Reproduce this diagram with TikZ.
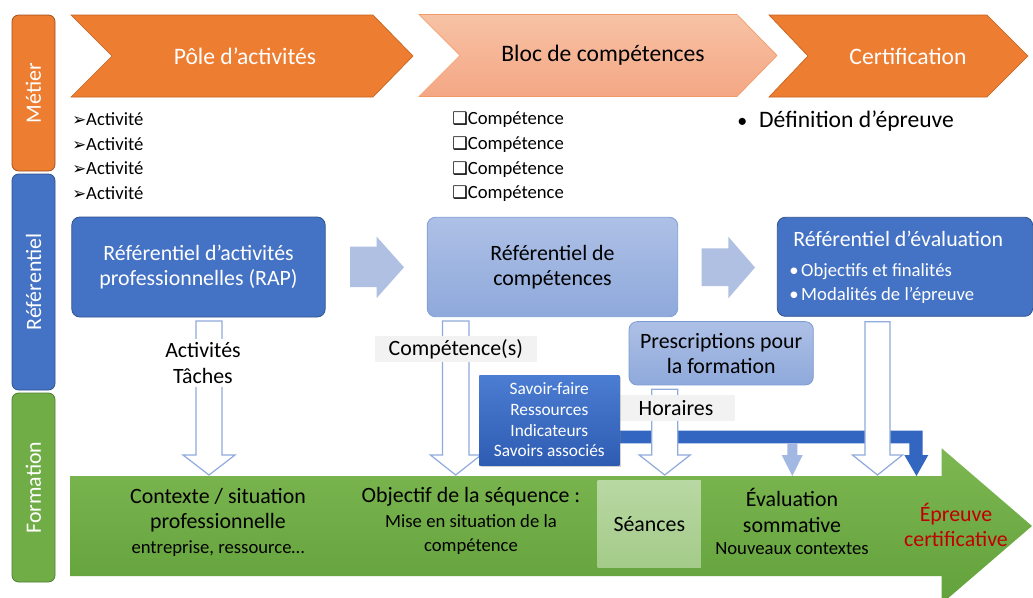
\documentclass[tikz,border=0pt]{standalone}
\usepackage{fontspec}
\setmainfont{Carlito}
\newfontfamily\symfont{DejaVu Sans}
\usetikzlibrary{calc,shadows}
\definecolor{orangeMain}{HTML}{ED7D31}
\definecolor{orangeLine}{HTML}{C8631F}
\definecolor{blocTop}{HTML}{F7C2A5}
\definecolor{blocBot}{HTML}{F4A784}
\definecolor{blocLine}{HTML}{F29A66}
\definecolor{blueMain}{HTML}{4472C4}
\definecolor{blueLine}{HTML}{2F528F}
\definecolor{paleTop}{HTML}{AEC0E6}
\definecolor{paleBot}{HTML}{8EA9DB}
\definecolor{paleLine}{HTML}{7D9BD4}
\definecolor{arrowPale}{HTML}{B0C0E3}
\definecolor{hollowLine}{HTML}{8FAADC}
\definecolor{barBlue}{HTML}{3366C0}
\definecolor{branchBlue}{HTML}{A2B8E2}
\definecolor{savTop}{HTML}{4B7DD2}
\definecolor{savBot}{HTML}{2E5CB3}
\definecolor{lblGray}{HTML}{F2F2F2}
\definecolor{greenMain}{HTML}{70AD47}
\definecolor{greenLine}{HTML}{507E32}
\definecolor{greenTop}{HTML}{7DB752}
\definecolor{greenBot}{HTML}{62A13B}
\definecolor{seanTop}{HTML}{B8D8A3}
\definecolor{seanBot}{HTML}{A4CB89}
\definecolor{redText}{HTML}{C00000}
\newcommand\bigf{\fontsize{17.7}{21}\selectfont}
\newcommand\midf{\fontsize{16.4}{19}\selectfont}
\newcommand\smallf{\fontsize{14}{18.5}\selectfont}
\newcommand\tinyf{\fontsize{13}{15.5}\selectfont}
\newcommand\arr{{\symfont\fontsize{12.5}{12}\selectfont ➢}}
\newcommand\sqb{{\symfont\fontsize{13}{12}\selectfont ❑}}
% hollow block arrow pointing down: (top)(tip)(shaft half width:head half width)
\def\blockdown[#1](#2)(#3)(#4:#5){\draw[#1] ($(#2)+(-#4,0)$) -- ($(#3)+(-#4,-20)$) -- ($(#3)+(-#5,-20)$) -- (#3) -- ($(#3)+(#5,-20)$) -- ($(#3)+(#4,-20)$) -- ($(#2)+(#4,0)$) -- cycle;}

\begin{document}
\begin{tikzpicture}[x=0.75pt,y=-0.75pt,
		tab/.style={rounded corners=5pt, line width=0.6pt},
		tabtext/.style={rotate=90, text=white, font=\midf},
		chev/.style={line width=0.5pt},
		list/.style={font=\smallf, align=left, inner sep=0pt},
		bluebox/.style={draw=blueLine, fill=blueMain, rounded corners=6pt, line width=0.6pt, text=white, align=center, font=\midf, inner sep=0pt},
		palebox/.style={draw=paleLine, top color=paleTop, bottom color=paleBot, rounded corners=6pt, line width=0.6pt, align=center, font=\midf, inner sep=0pt},
		lbl/.style={fill=lblGray, font=\midf, inner sep=0pt},
		hollow/.style={draw=hollowLine, fill=white, line width=0.9pt},
		gtext/.style={align=center, inner sep=0pt}]
		%%%%% START %%%%%
		
		\useasboundingbox (0,0) rectangle (1033,597);
		\fill[white] (0,0) rectangle (1033,597);
		
		% side tabs
		\draw[tab, draw=orangeLine!80!black, fill=orangeMain] (12,15) rectangle (55,171);
		\draw[tab, draw=blueLine, fill=blueMain] (12,174) rectangle (55,390);
		\draw[tab, draw=greenLine, fill=greenMain] (12,393) rectangle (55,582);
		\node[tabtext] (metier) at (33.5,93) {Métier};
		\node[tabtext] (referentiel) at (33.5,282) {Référentiel};
		\node[tabtext] (formation) at (33.5,487.5) {Formation};
		
		% chevrons
		\draw[chev, draw=orangeLine, fill=orangeMain] (71,15) -- (373,15) -- (413,56) -- (373,97) -- (71,97) -- (112,56) -- cycle;
		\draw[chev, draw=blocLine, top color=blocTop, bottom color=blocBot] (419,14.5) -- (737,14.5) -- (777,55.5) -- (737,96.5) -- (419,96.5) -- (460,55.5) -- cycle;
		\draw[chev, draw=orangeLine, fill=orangeMain] (769,15) -- (987,15) -- (1028,56) -- (987,97) -- (769,97) -- (808,56) -- cycle;
		\node[text=white, font=\bigf] (pole) at (245,56) {Pôle d’activités};
		\node[font=\bigf] (bloc) at (603,55) {Bloc de compétences};
		\node[text=white, font=\bigf] (certif) at (908,56) {Certification};
		
		% lists under the chevrons
		\node[list, anchor=west] (actList) at (72,156) {\arr Activité\\\arr Activité\\\arr Activité\\\arr Activité};
		\node[list, anchor=west] (compList) at (452,157) {\sqb Compétence\\\sqb Compétence\\\sqb Compétence\\\sqb Compétence};
		\node[anchor=west, font=\bigf, inner sep=0pt] (defEp) at (737,121.5) {{\fontsize{15}{18}\selectfont•}\hspace{9pt}Définition d’épreuve};
		
		% referentiels
		\node[bluebox, minimum width=190pt, minimum height=75pt] (rap) at (198.5,267) {Référentiel d’activités\\professionnelles (RAP)};
		\node[palebox, minimum width=187.8pt, minimum height=74.5pt] (comp) at (552.5,267) {Référentiel de\\compétences};
		\node[bluebox, minimum width=191.5pt, minimum height=74.3pt] (eval) at (905,266.8) {};
		\node[anchor=west, text=white, font=\midf, inner sep=0pt] (evalTitle) at (793,239) {Référentiel d’évaluation};
		\node[anchor=west, text=white, font=\fontsize{14}{18}\selectfont, align=left, inner sep=0pt] (evalList) at (789,283.5) {•\hspace{2pt}Objectifs et finalités\\•\hspace{2pt}Modalités de l’épreuve};
		
		\fill[arrowPale] (350,246.7) -- (376.7,246.7) -- (376.7,236.7) -- (404,267.3) -- (376.7,298) -- (376.7,287) -- (350,287) -- cycle;
		\fill[arrowPale] (701.7,248.3) -- (728.3,248.3) -- (728.3,236.7) -- (755,267.5) -- (728.3,298.3) -- (728.3,286) -- (701.7,286) -- cycle;
		
		% formation arrow
		\shade[top color=greenTop, bottom color=greenBot] (70,476) -- (941.7,476) -- (941.7,448.3) -- (1032,526) -- (941.7,603.7) -- (941.7,576) -- (70,576) -- cycle;
		\coordinate (gtop) at (0,475);
		\node[top color=seanTop, bottom color=seanBot, minimum width=77.5pt, minimum height=65pt, font=\midf, inner sep=0pt] (seances) at (649.3,524.3) {Séances};
		
		\node[palebox, minimum width=138.2pt, minimum height=47.5pt] (prescr) at (721.2,353.3) {Prescriptions pour\\la formation};
		
		% blue link to the epreuve
		\fill[barBlue] (600.7,430.7) -- (922.7,430.7) -- (922.7,455) -- (928.3,455) -- (916.5,476) -- (904.3,455) -- (909.3,455) -- (909.3,443.3) -- (600.7,443.3) -- cycle;
		\fill[branchBlue] (787.3,443.3) -- (787.3,455) -- (781.7,455) -- (792.3,476) -- (802.7,455) -- (797.3,455) -- (797.3,443.3) -- cycle;
		
		% hollow arrows
		\coordinate (actTop) at (209,321);
		\coordinate (compTop) at (455.7,321);
		\coordinate (horTop) at (664.7,389.3);
		\coordinate (evalTop) at (877.5,321.7);
		\blockdown[hollow](actTop)(actTop |- gtop)(13:26)
		\blockdown[hollow](compTop)(compTop |- gtop)(13.3:25.3)
		\blockdown[hollow](horTop)(horTop |- gtop)(13:25.5)
		\blockdown[hollow](evalTop)(evalTop |- gtop)(12.5:25)
		
		\node[fill=white, font=\midf, align=center, inner xsep=1pt, inner ysep=3pt] (actLbl) at (203,363) {Activités\\Tâches};
		\node[lbl, minimum width=121.3pt, minimum height=19.3pt] (compLbl) at (455.8,348.8) {Compétence(s)};
		\node[lbl, minimum width=88.3pt, minimum height=19.3pt] (horLbl) at (676,407.8) {Horaires};
		
		\node[top color=savTop, bottom color=savBot, drop shadow={opacity=0.35, shadow xshift=1.5pt, shadow yshift=-1.5pt}, minimum width=105pt, minimum height=67.5pt, text=white, align=center, font=\tinyf, inner sep=0pt] (savoir) at (549.3,420) {Savoir-faire\\Ressources\\Indicateurs\\Savoirs associés};
		
		% texts on the formation arrow
		\node[gtext, font=\midf] (ctx) at (218,510) {Contexte / situation\\professionnelle};
		\node[gtext, font=\smallf] (ctxSub) at (218,549) {entreprise, ressource…};
		\node[gtext, font=\midf] (obj) at (471,497) {Objectif de la séquence :};
		\node[gtext, font=\fontsize{14}{17.3}\selectfont] (objSub) at (471,534.5) {Mise en situation de la\\compétence};
		\node[gtext, font=\fontsize{16.4}{20}\selectfont] (evalS) at (792,510.5) {Évaluation\\sommative};
		\node[gtext, font=\smallf] (evalSub) at (792,549) {Nouveaux contextes};
		\node[gtext, font=\fontsize{16.4}{18.8}\selectfont, text=redText] (epreuve) at (956,524.5) {Épreuve\\certificative};
		
		%%%%% END %%%%%
\end{tikzpicture}
\end{document}
